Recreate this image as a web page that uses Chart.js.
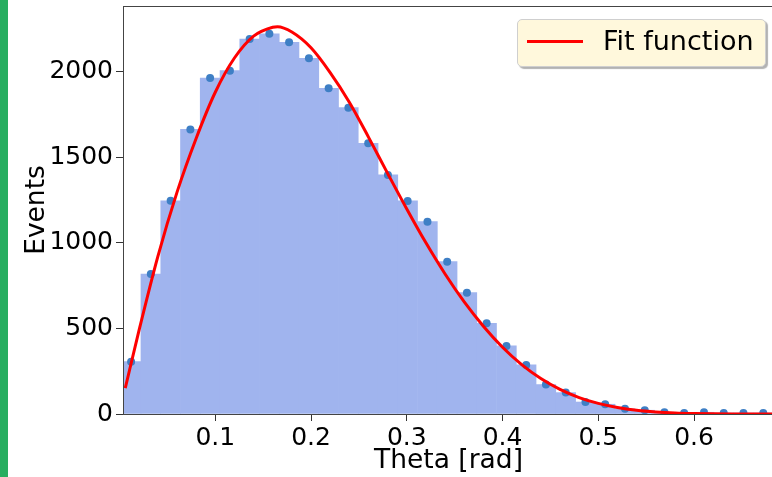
<!DOCTYPE html>
<html>
<head>
<meta charset="utf-8">
<script src="https://cdn.jsdelivr.net/npm/chart.js@4.4.1/dist/chart.umd.min.js"></script>
<style>
  html, body { margin: 0; padding: 0; background: #fff; overflow: hidden; }
  #wrap { position: absolute; left: 0; top: 0; width: 778px; height: 477px; }
  #greenBar { position: absolute; left: 0; top: 0; width: 8px; height: 477px; background: #27ae60; }
  #legend {
    position: absolute; left: 517px; top: 19px; width: 247px; height: 46px;
    background: #fff8dc; border: 1px solid #cfcfcf; border-radius: 5px;
    box-shadow: 2px 2px 1px rgba(0,0,0,0.3);
    font-family: "DejaVu Sans", sans-serif; font-size: 27px; color: #000;
  }
  #legend .swatch { position: absolute; left: 9px; top: 20px; width: 56px; height: 3px; background: #ff0000; }
  #legend .label { position: absolute; left: 85px; top: 5px; line-height: 32px; white-space: nowrap; }
</style>
</head>
<body>
<div id="wrap"><canvas id="histChart" width="778" height="477"></canvas></div>
<div id="greenBar"></div>
<div id="legend"><div class="swatch"></div><div class="label">Fit function</div></div>
<script>
// histogram bins (centers) and counts
const binCenters = [0.0121, 0.0327, 0.0534, 0.0740, 0.0946, 0.1153, 0.1359, 0.1565, 0.1771, 0.1978,
  0.2184, 0.2390, 0.2597, 0.2803, 0.3009, 0.3216, 0.3422, 0.3628, 0.3834, 0.4041,
  0.4247, 0.4453, 0.4660, 0.4866, 0.5072, 0.5279, 0.5485, 0.5691, 0.5897, 0.6104,
  0.6310, 0.6516, 0.6723];
const eventCounts = [306, 818, 1246, 1663, 1963, 2006, 2191, 2222, 2172, 2078,
  1903, 1790, 1582, 1397, 1245, 1124, 890, 709, 530, 398,
  287, 172, 125, 70, 57, 30, 22, 10, 6, 10,
  6, 6, 6];

// fit curve
const fitX = [0.006, 0.02, 0.04, 0.06, 0.08, 0.10, 0.12, 0.14, 0.16, 0.165,
  0.18, 0.20, 0.22, 0.24, 0.26, 0.28, 0.30, 0.32, 0.34, 0.36,
  0.38, 0.40, 0.42, 0.44, 0.46, 0.48, 0.50, 0.52, 0.54, 0.56,
  0.58, 0.60, 0.62, 0.64, 0.6835];
const fitY = [151, 480, 920, 1295, 1610, 1880, 2080, 2208, 2260, 2263,
  2232, 2140, 1995, 1822, 1618, 1406, 1198, 1000, 818, 655,
  513, 390, 288, 207, 144, 96, 62, 38, 22, 12,
  6, 3, 1.5, 0.7, 0.2];

const xTickValues = [0.1, 0.2, 0.3, 0.4, 0.5, 0.6];
const yTickValues = [0, 500, 1000, 1500, 2000];

const TICK_FONT = { family: 'DejaVu Sans', size: 25 };
const TITLE_FONT = { family: 'DejaVu Sans', size: 26.5 };

// draws the frame around the plot area (top spine too)
const framePlugin = {
  id: 'frame',
  afterDraw(chart) {
    const a = chart.chartArea;
    const c = chart.ctx;
    c.save();
    c.strokeStyle = '#444';
    c.lineWidth = 1;
    c.strokeRect(a.left + 0.5, a.top + 0.5, a.right - a.left, a.bottom - a.top);
    c.restore();
  }
};

const ctx = document.getElementById('histChart').getContext('2d');

new Chart(ctx, {
  type: 'bar',
  data: {
    datasets: [
      {
        type: 'line',
        label: 'Fit function',
        data: fitX.map((x, i) => ({ x: x, y: fitY[i] })),
        borderColor: '#ff0000',
        borderWidth: 3,
        pointRadius: 0,
        fill: false,
        cubicInterpolationMode: 'monotone',
        order: 1
      },
      {
        type: 'scatter',
        label: 'Data',
        data: binCenters.map((x, i) => ({ x: x, y: eventCounts[i] })),
        backgroundColor: '#3e7fc5',
        borderWidth: 0,
        pointRadius: 4,
        order: 2
      },
      {
        type: 'bar',
        label: 'Histogram',
        data: binCenters.map((x, i) => ({ x: x, y: eventCounts[i] })),
        backgroundColor: '#a0b4ee',
        borderWidth: 0,
        barPercentage: 1,
        categoryPercentage: 1,
        order: 3
      }
    ]
  },
  options: {
    responsive: false,
    animation: false,
    layout: { padding: { left: 0, top: 6, right: 1, bottom: 0 } },
    plugins: {
      legend: { display: false },
      tooltip: { enabled: false }
    },
    scales: {
      x: {
        type: 'linear',
        offset: false,
        min: 0.00364,
        max: 0.6835,
        afterBuildTicks: (s) => { s.ticks = xTickValues.map(v => ({ value: v })); },
        afterFit: (s) => { s.height = 63; s.paddingLeft = 0; s.paddingRight = 0; },
        ticks: {
          color: '#000',
          font: TICK_FONT,
          padding: 2,
          maxRotation: 0,
          callback: (v) => Number(v).toFixed(1)
        },
        grid: { display: true, offset: false, drawOnChartArea: false, tickLength: 7, color: '#333' },
        border: { display: true, color: '#333' },
        title: { display: true, text: 'Theta [rad]', color: '#000', font: TITLE_FONT, padding: { top: 0, bottom: 0 } }
      },
      y: {
        min: 0,
        max: 2384,
        afterBuildTicks: (s) => { s.ticks = yTickValues.map(v => ({ value: v })); },
        afterFit: (s) => { s.width = 123; s.paddingTop = 0; s.paddingBottom = 0; },
        ticks: {
          color: '#000',
          font: TICK_FONT,
          padding: 3,
          callback: (v) => String(v)
        },
        grid: { display: true, drawOnChartArea: false, tickLength: 7, color: '#333' },
        border: { display: true, color: '#333' },
        title: { display: true, text: 'Events', color: '#000', font: TITLE_FONT, padding: { top: 21, bottom: 0 } }
      }
    }
  },
  plugins: [framePlugin]
});
</script>
</body>
</html>
